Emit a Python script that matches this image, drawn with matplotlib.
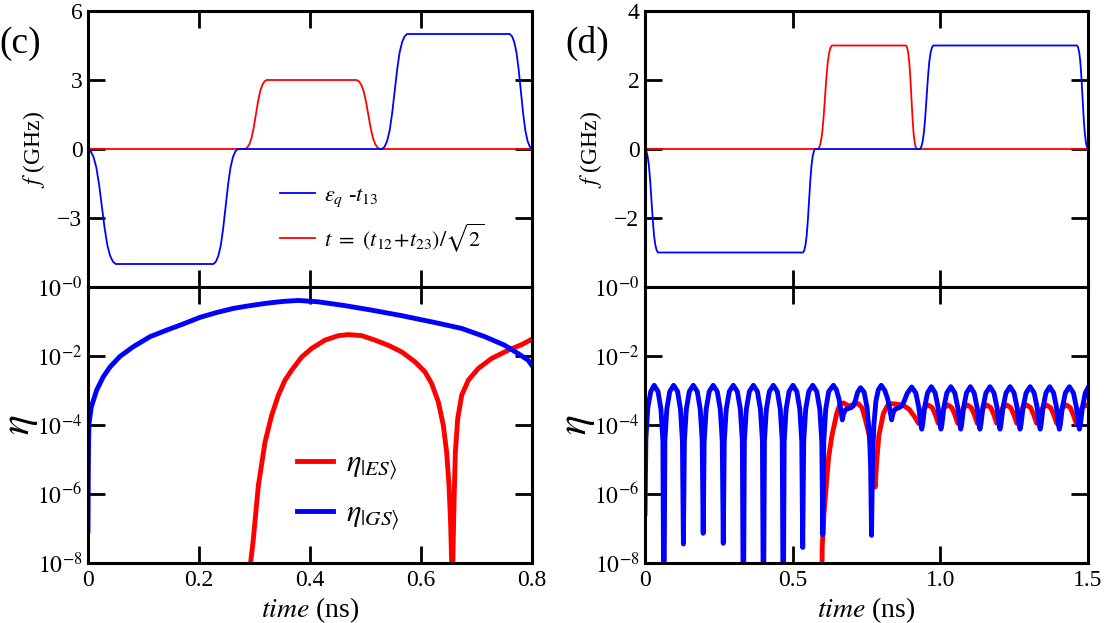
import numpy as np
import matplotlib
matplotlib.use('Agg')
import matplotlib.pyplot as plt
from matplotlib.lines import Line2D

plt.rcParams['font.family'] = ['Liberation Serif', 'DejaVu Serif']
plt.rcParams['mathtext.fontset'] = 'stix'

# ---------- (c) pulses ----------
c_eps_t = [0, .005, .01, .015, .02, .025, .03, .035, .04, .045, .05,
           .226, .2304, .2348, .2392, .2436, .248, .2524, .2568, .2612, .2656, .27,
           .53, .5345, .539, .5435, .548, .5525, .557, .5615, .566, .5705, .575,
           .76, .764, .768, .772, .776, .78, .784, .788, .792, .796, .8]
c_eps_f = [0, -.1, -.35, -.8, -1.55, -2.5, -3.45, -4.2, -4.65, -4.9, -5,
           -5, -4.9, -4.65, -4.2, -3.45, -2.5, -1.55, -.8, -.35, -.1, 0,
           0, .1, .35, .8, 1.55, 2.5, 3.45, 4.2, 4.65, 4.9, 5,
           5, 4.9, 4.65, 4.2, 3.45, 2.5, 1.55, .8, .35, .1, 0]
c_tun_t = [0, .283, .2869, .2908, .2947, .2986, .3025, .3064, .3103, .3142, .3181, .322,
           .484, .4882, .4924, .4966, .5008, .505, .5092, .5134, .5176, .5218, .526, .8]
c_tun_f = [0, 0, .06, .21, .48, .93, 1.5, 2.07, 2.52, 2.79, 2.94, 3,
           3, 2.94, 2.79, 2.52, 2.07, 1.5, .93, .48, .21, .06, 0, 0]

# ---------- (c) leakage, log10(eta) ----------
c_gs_t = [0.0, 0.0005, 0.001, 0.0018, 0.0059, 0.0156, 0.0276, 0.0396, 0.0577,
          0.0817, 0.1118, 0.1418, 0.1718, 0.2018, 0.2318, 0.262, 0.292, 0.322,
          0.35, 0.379, 0.415, 0.463, 0.511, 0.565, 0.625, 0.673, 0.715, 0.751,
          0.775, 0.793, 0.802]
c_gs_log = [-7.06, -5.5, -4.6, -3.96, -3.48, -2.99, -2.60, -2.32, -2.01,
            -1.73, -1.44, -1.25, -1.07, -0.88, -0.74, -0.62, -0.54, -0.47,
            -0.42, -0.39, -0.43, -0.54, -0.67, -0.83, -1.03, -1.20, -1.44, -1.69,
            -1.93, -2.12, -2.32]
c_es_t = [0.290, 0.2931, 0.2979, 0.3069, 0.3189, 0.3309, 0.3429, 0.3550, 0.3670,
          0.3850, 0.4030, 0.4270, 0.4511, 0.4691, 0.4931, 0.5171, 0.5411, 0.5652,
          0.5892, 0.6072, 0.6192, 0.6312, 0.6402, 0.6462, 0.6505, 0.6535, 0.6552,
          0.6563,
          0.6577, 0.6595, 0.6619, 0.6661, 0.6733, 0.6853, 0.7033, 0.7273, 0.7574,
          0.7814, 0.8024]
c_es_log = [-10, -7.97, -7.31, -5.76, -4.50, -3.72, -3.14, -2.70, -2.41,
            -2.03, -1.78, -1.54, -1.41, -1.38, -1.41, -1.54, -1.69, -1.88,
            -2.17, -2.46, -2.80, -3.33, -4.01, -4.79, -5.76, -6.92, -7.98,
            -10,
            -7.69, -6.24, -4.79, -3.82, -3.14, -2.70, -2.36, -2.07, -1.83,
            -1.67, -1.49]

# ---------- (d) pulses ----------
d_eps_t = [0, .0044, .0088, .0132, .0176, .022, .0264, .0308, .0352, .0396, .044,
           .535, .5391, .5432, .5473, .5514, .5555, .5596, .5637, .5678, .5719, .576,
           .931, .9355, .940, .9445, .949, .9535, .958, .9625, .967, .9715, .976,
           1.463, 1.4667, 1.4704, 1.4741, 1.4778, 1.4815, 1.4852, 1.4889, 1.4926, 1.4963, 1.5]
d_eps_f = [0, -.06, -.21, -.48, -.93, -1.5, -2.07, -2.52, -2.79, -2.94, -3,
           -3, -2.94, -2.79, -2.52, -2.07, -1.5, -.93, -.48, -.21, -.06, 0,
           0, .06, .21, .48, .93, 1.5, 2.07, 2.52, 2.79, 2.94, 3,
           3, 2.94, 2.79, 2.52, 2.07, 1.5, .93, .48, .21, .06, 0]
d_tun_t = [0, .586, .5907, .5954, .6001, .6048, .6095, .6142, .6189, .6236, .6283, .633,
           .884, .8876, .8912, .8948, .8984, .902, .9056, .9092, .9128, .9164, .920, 1.5]
d_tun_f = [0, 0, .06, .21, .48, .93, 1.5, 2.07, 2.52, 2.79, 2.94, 3,
           3, 2.94, 2.79, 2.52, 2.07, 1.5, .93, .48, .21, .06, 0, 0]

# ---------- (d) leakage, log10(eta) ----------
d_gs_t = [0, 0.003, 0.0095, 0.0195, 0.031, 0.044, 0.054, 0.0605, 0.064,
          0.0673, 0.0739, 0.0838, 0.097, 0.1102, 0.1201, 0.1267, 0.130,
          0.1334, 0.140, 0.150, 0.1635, 0.177, 0.187, 0.1937, 0.197,
          0.2004, 0.2072, 0.2174, 0.231, 0.2446, 0.2548, 0.2616, 0.265,
          0.2684, 0.2752, 0.2854, 0.299, 0.3126, 0.3228, 0.3296, 0.333,
          0.3364, 0.3432, 0.3534, 0.367, 0.3806, 0.3908, 0.3976, 0.401,
          0.4044, 0.411, 0.421, 0.4345, 0.448, 0.458, 0.4647, 0.468,
          0.4713, 0.4779, 0.4878, 0.501, 0.5142, 0.5241, 0.5307, 0.534,
          0.5374, 0.5442, 0.5544, 0.568, 0.5816, 0.5918, 0.5986, 0.602,
          0.6054, 0.612, 0.622, 0.638, 0.648, 0.657, 0.664, 0.668,
          0.673, 0.680, 0.689, 0.697, 0.705, 0.712, 0.720, 0.730,
          0.742, 0.752, 0.760, 0.764, 0.767, 0.7705, 0.775, 0.782, 0.790, 0.800,
          0.812, 0.822, 0.830, 0.835, 0.840, 0.846, 0.852, 0.860, 0.869,
          0.878, 0.888, 0.903, 0.917, 0.927, 0.9337, 0.937,
          0.9403, 0.9468, 0.9565, 0.9695, 0.9825, 0.9923, 0.9988, 1.002,
          1.0054, 1.012, 1.022, 1.0355, 1.049, 1.059, 1.0657, 1.069,
          1.0723, 1.0788, 1.0885, 1.1015, 1.1145, 1.1243, 1.1308, 1.134,
          1.1374, 1.1442, 1.1544, 1.168, 1.1816, 1.1918, 1.1986, 1.202,
          1.2054, 1.2122, 1.2224, 1.236, 1.2496, 1.2598, 1.2666, 1.270,
          1.2734, 1.2802, 1.2904, 1.304, 1.3176, 1.3278, 1.3346, 1.338,
          1.3413, 1.3478, 1.3575, 1.3705, 1.3835, 1.3933, 1.3998, 1.403,
          1.4064, 1.4132, 1.4234, 1.437, 1.4506, 1.4608, 1.4676, 1.471,
          1.4744, 1.481, 1.491, 1.5]
d_gs_log = [-6.57, -4.4, -3.5, -3.03, -2.85, -3.03, -3.54, -4.46, -10,
            -4.46, -3.54, -3.03, -2.85, -3.03, -3.54, -4.46, -7.45,
            -4.46, -3.54, -3.03, -2.85, -3.03, -3.54, -4.46, -7.14,
            -4.46, -3.54, -3.03, -2.85, -3.03, -3.54, -4.46, -7.43,
            -4.46, -3.54, -3.03, -2.85, -3.03, -3.54, -4.46, -10,
            -4.46, -3.54, -3.03, -2.85, -3.03, -3.54, -4.46, -10,
            -4.46, -3.54, -3.03, -2.85, -3.03, -3.54, -4.46, -10,
            -4.46, -3.54, -3.03, -2.85, -3.03, -3.54, -4.46, -7.55,
            -4.46, -3.54, -3.03, -2.85, -3.03, -3.54, -4.46, -7.18,
            -4.46, -3.54, -3.03, -2.85, -2.98, -3.25, -3.6, -3.85,
            -3.65, -3.55, -3.52, -3.5, -3.45, -3.3, -3.05, -2.92,
            -3.05, -3.5, -4.3, -5.2, -7.2, -5.0, -4.0, -3.3, -2.98, -2.85,
            -3.0, -3.25, -3.6, -3.85, -3.65, -3.55, -3.52, -3.5, -3.45,
            -3.3, -3.08, -2.9, -3.07, -3.49, -3.98, -4.12,
            -3.98, -3.49, -3.07, -2.89, -3.07, -3.49, -3.98, -4.12,
            -3.98, -3.49, -3.07, -2.89, -3.07, -3.49, -3.98, -4.12,
            -3.98, -3.49, -3.07, -2.89, -3.07, -3.49, -3.98, -4.12,
            -3.98, -3.49, -3.07, -2.89, -3.07, -3.49, -3.98, -4.12,
            -3.98, -3.49, -3.07, -2.89, -3.07, -3.49, -3.98, -4.12,
            -3.98, -3.49, -3.07, -2.89, -3.07, -3.49, -3.98, -4.12,
            -3.98, -3.49, -3.07, -2.89, -3.07, -3.49, -3.98, -4.12,
            -3.98, -3.49, -3.07, -2.89, -3.07, -3.49, -3.98, -4.12,
            -3.98, -3.49, -3.07, -2.92]
d_es_t = [0.597, 0.600, 0.606, 0.615, 0.622, 0.632, 0.649, 0.660, 0.672, 0.690,
          0.708, 0.722, 0.735, 0.747, 0.762, 0.772, 0.779, 0.785, 0.792, 0.807,
          0.82, 0.835, 0.855, 0.875, 0.895, 0.912, 0.926,
          0.936, 0.946, 0.9595, 0.973, 0.983, 0.993,
          1.003, 1.0128, 1.026, 1.0392, 1.049, 1.059,
          1.069, 1.0788, 1.092, 1.1052, 1.115, 1.125,
          1.135, 1.1448, 1.158, 1.1712, 1.181, 1.191,
          1.2012, 1.2114, 1.225, 1.2386, 1.2488, 1.259,
          1.269, 1.279, 1.2925, 1.306, 1.316, 1.326,
          1.3362, 1.3464, 1.36, 1.3736, 1.3838, 1.394,
          1.404, 1.4138, 1.427, 1.4402, 1.45, 1.460,
          1.47, 1.48, 1.493, 1.5]
d_es_log = [-10, -7.55, -6.58, -5.61, -4.93, -4.35, -3.67, -3.40, -3.36, -3.45,
            -3.40, -3.38, -3.5, -3.87, -4.4, -5.0, -5.8, -5.0, -4.3, -3.67,
            -3.45, -3.38, -3.4, -3.43, -3.55, -3.75, -3.95,
            -3.7, -3.5, -3.42, -3.5, -3.7, -3.95,
            -3.7, -3.5, -3.42, -3.5, -3.7, -3.95,
            -3.7, -3.5, -3.42, -3.5, -3.7, -3.95,
            -3.7, -3.5, -3.42, -3.5, -3.7, -3.95,
            -3.7, -3.5, -3.42, -3.5, -3.7, -3.95,
            -3.7, -3.5, -3.42, -3.5, -3.7, -3.95,
            -3.7, -3.5, -3.42, -3.5, -3.7, -3.95,
            -3.7, -3.5, -3.42, -3.5, -3.7, -3.95,
            -3.7, -3.5, -3.42, -3.44]

log_ticks = [1e-8, 1e-6, 1e-4, 1e-2, 1e0]
log_labels = [r'$10^{-8}$', r'$10^{-6}$', r'$10^{-4}$', r'$10^{-2}$', r'$10^{-0}$']

W, H = 1105, 623
fig = plt.figure(figsize=(W / 100, H / 100), dpi=100)


def rect(x0, y0, x1, y1):
    return [x0 / W, 1 - y1 / H, (x1 - x0) / W, (y1 - y0) / H]


def style(ax):
    for s in ax.spines.values():
        s.set_linewidth(2.2)
    ax.tick_params(direction='in', length=12, width=2.0, top=True, right=True,
                   labelsize=17, pad=5)
    ax.tick_params(axis='y', pad=4)


ax_ct = fig.add_axes(rect(88, 11, 532, 287))
ax_cb = fig.add_axes(rect(88, 287, 532, 563))
ax_dt = fig.add_axes(rect(645, 11, 1088, 287))
ax_db = fig.add_axes(rect(645, 287, 1088, 563))

# (c) top
ax_ct.plot(c_tun_t, c_tun_f, color='red', lw=1.3)
ax_ct.plot(c_eps_t, c_eps_f, color='blue', lw=1.3)
ax_ct.set_xlim(0, 0.8)
ax_ct.set_ylim(-6, 6)
ax_ct.set_yticks([-3, 0, 3, 6])
ax_ct.set_xticks([0.2, 0.4, 0.6])
ax_ct.tick_params(labelbottom=False)
style(ax_ct)
ax_ct.set_ylabel(r'$f$ (GHz)', fontsize=17)
ax_ct.yaxis.set_label_coords(-0.092, 0.5)
ax_ct.text(-0.2, 0.85, '(c)', transform=ax_ct.transAxes, fontsize=27)
h1 = [Line2D([], [], color='blue', lw=1.3), Line2D([], [], color='red', lw=1.3)]
ax_ct.legend(h1, [r'$\varepsilon_q$ -$t_{\mathit{13}}$',
                  r'$t\ =\ (t_{\mathit{12}}\!+\!t_{\mathit{23}})/\sqrt{2}$'],
             loc='upper left', bbox_to_anchor=(0.432, 0.368), frameon=False,
             fontsize=16, handlelength=1.6, handletextpad=0.4, labelspacing=0.55,
             borderpad=0, borderaxespad=0)

# (c) bottom
ax_cb.plot(c_es_t, 10.0 ** np.array(c_es_log), color='red', lw=3.5)
ax_cb.plot(c_gs_t, 10.0 ** np.array(c_gs_log), color='blue', lw=3.5)
ax_cb.set_yscale('log')
ax_cb.set_xlim(0, 0.8)
ax_cb.set_ylim(1e-8, 1)
ax_cb.set_yticks(log_ticks)
ax_cb.set_yticklabels(log_labels)
ax_cb.minorticks_off()
ax_cb.set_xticks([0, 0.2, 0.4, 0.6, 0.8])
ax_cb.set_xticklabels(['0', '0.2', '0.4', '0.6', '0.8'])
style(ax_cb)
ax_cb.set_ylabel(r'$\eta$', fontsize=30)
ax_cb.yaxis.set_label_coords(-0.108, 0.5)
ax_cb.set_xlabel(r'$time$ (ns)', fontsize=20, labelpad=3)
h2 = [Line2D([], [], color='red', lw=3.5), Line2D([], [], color='blue', lw=3.5)]
ax_cb.legend(h2, [r'$\eta_{|ES\rangle}$', r'$\eta_{|GS\rangle}$'],
             loc='upper left', bbox_to_anchor=(0.47, 0.41), frameon=False,
             fontsize=22, handlelength=1.2, handletextpad=0.4, labelspacing=0.55,
             borderpad=0, borderaxespad=0)

# (d) top
ax_dt.plot(d_tun_t, d_tun_f, color='red', lw=1.3)
ax_dt.plot(d_eps_t, d_eps_f, color='blue', lw=1.3)
ax_dt.set_xlim(0, 1.5)
ax_dt.set_ylim(-4, 4)
ax_dt.set_yticks([-2, 0, 2, 4])
ax_dt.set_xticks([0.5, 1.0])
ax_dt.tick_params(labelbottom=False)
style(ax_dt)
ax_dt.set_ylabel(r'$f$ (GHz)', fontsize=17)
ax_dt.yaxis.set_label_coords(-0.093, 0.5)
ax_dt.text(-0.18, 0.85, '(d)', transform=ax_dt.transAxes, fontsize=27)

# (d) bottom
ax_db.plot(d_es_t, 10.0 ** np.array(d_es_log), color='red', lw=3.5)
ax_db.plot(d_gs_t, 10.0 ** np.array(d_gs_log), color='blue', lw=3.5)
ax_db.set_yscale('log')
ax_db.set_xlim(0, 1.5)
ax_db.set_ylim(1e-8, 1)
ax_db.set_yticks(log_ticks)
ax_db.set_yticklabels(log_labels)
ax_db.minorticks_off()
ax_db.set_xticks([0, 0.5, 1.0, 1.5])
ax_db.set_xticklabels(['0', '0.5', '1.0', '1.5'])
style(ax_db)
ax_db.set_ylabel(r'$\eta$', fontsize=30)
ax_db.yaxis.set_label_coords(-0.108, 0.5)
ax_db.set_xlabel(r'$time$ (ns)', fontsize=20, labelpad=3)

fig.savefig('out.png', dpi=100)
